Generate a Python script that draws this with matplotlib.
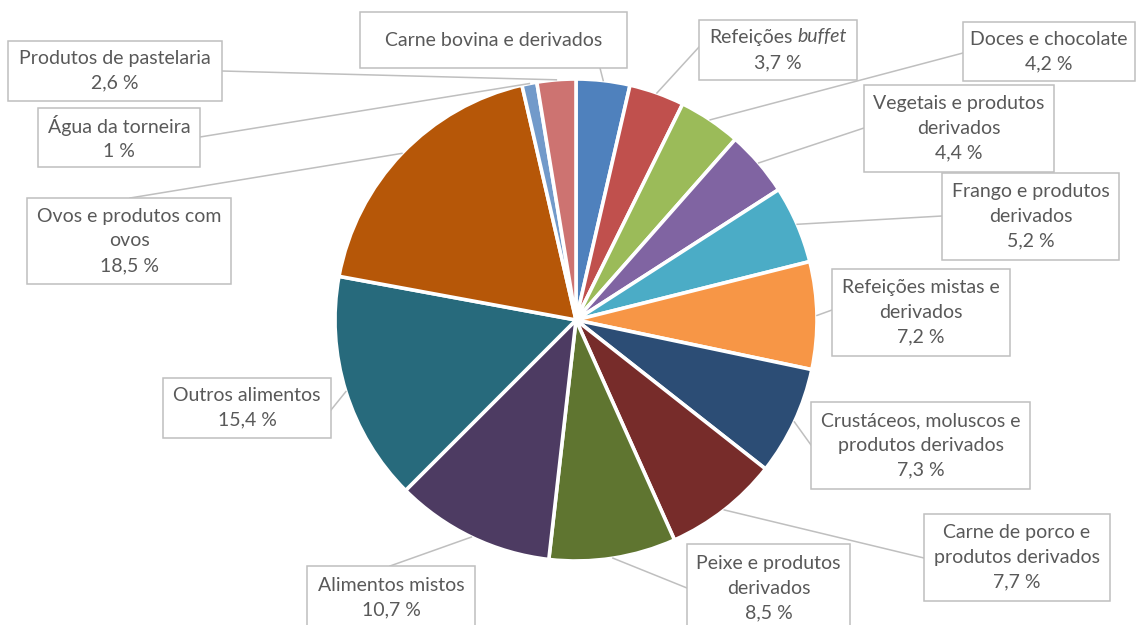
import matplotlib
matplotlib.use('Agg')
import matplotlib.pyplot as plt
from matplotlib.patches import Rectangle
import numpy as np

# data (clockwise from 12 o'clock)
names = ['Carne bovina e derivados', 'Refeições buffet', 'Doces e chocolate',
         'Vegetais e produtos\nderivados', 'Frango e produtos\nderivados',
         'Refeições mistas e\nderivados', 'Crustáceos, moluscos e\nprodutos derivados',
         'Carne de porco e\nprodutos derivados', 'Peixe e produtos\nderivados',
         'Alimentos mistos', 'Outros alimentos', 'Ovos e produtos com\novos',
         'Água da torneira', 'Produtos de pastelaria']
values = [3.6, 3.7, 4.2, 4.4, 5.2, 7.2, 7.3, 7.7, 8.5, 10.7, 15.4, 18.5, 1.0, 2.6]
show_pct = [False] + [True] * 13

colors = ['#4F81BD', '#C0504D', '#9BBB59', '#8064A2', '#4BACC6', '#F79646',
          '#2C4D75', '#772C2A', '#5F7530', '#4D3B62', '#276A7C', '#B65708',
          '#729ACA', '#CD7371']

# layout in pixels (top-left origin): label boxes and leader anchors
W, H = 1136, 625
boxes = [(360, 12, 627, 68), (699, 20, 857, 80), (963, 22, 1135, 81),
         (864, 85, 1054, 172), (942, 173, 1119, 260), (832, 269, 1010, 356),
         (811, 402, 1030, 489), (924, 514, 1110, 601), (687, 544, 850, 632),
         (307, 566, 475, 630), (163, 378, 331, 438), (27, 198, 231, 284),
         (38, 108, 200, 167), (8, 41, 222, 101)]
anchors = [(600, 68), (699, 47), (963, 53), (864, 128), (942, 216), (832, 310),
           (811, 445), (924, 558), (687, 588), (390, 566), (331, 410), (130, 198),
           (200, 137), (222, 71)]
cx, cy, R = 576, 320, 241

TXT = '#595959'
LINE = '#BFBFBF'
FONT = 'Lato'
FS = 14
LS = 1.55

fig = plt.figure(figsize=(W / 100, H / 100), dpi=100)
ax = fig.add_axes([0, 0, 1, 1])

Y = lambda y: H - y

wedges, _ = ax.pie(values, colors=colors, startangle=90, counterclock=False,
                   center=(cx, Y(cy)), radius=R, frame=True,
                   wedgeprops=dict(edgecolor='white', linewidth=2.6))
ax.set_xlim(0, W)
ax.set_ylim(0, H)
ax.axis('off')

fig.canvas.draw()
renderer = fig.canvas.get_renderer()

def fmt(v):
    return f'{v:g}'.replace('.', ',') + ' %'

def text_w(s, **kw):
    t = ax.text(0, 0, s, fontsize=FS, family=FONT, **kw)
    w = t.get_window_extent(renderer).width
    t.remove()
    return w

for i, w in enumerate(wedges):
    x0, y0, x1, y1 = boxes[i]
    ax.add_patch(Rectangle((x0, Y(y1)), x1 - x0, y1 - y0, facecolor='white',
                           edgecolor=LINE, linewidth=1.1, zorder=3))
    mid = np.deg2rad((w.theta1 + w.theta2) / 2)
    px, py = cx + R * np.cos(mid), Y(cy) + R * np.sin(mid)
    ax.plot([anchors[i][0], px], [Y(anchors[i][1]), py], color=LINE, lw=1.1, zorder=2)

    label = names[i] + ('\n' + fmt(values[i]) if show_pct[i] else '')
    tx, ty = (x0 + x1) / 2, Y((y0 + y1) / 2)
    if i == 1:
        # first line with italic "buffet"
        d = 26
        wa = text_w('Refeições')
        wb = text_w('buffet', style='italic')
        sp = FS * 0.26 * 100 / 72
        left = tx - (wa + sp + wb) / 2
        ax.text(left, ty + d / 2, 'Refeições', ha='left', va='center', color=TXT,
                fontsize=FS, family=FONT, zorder=4)
        ax.text(left + wa + sp, ty + d / 2, 'buffet', ha='left', va='center',
                color=TXT, fontsize=FS, family=FONT, style='italic', zorder=4)
        ax.text(tx, ty - d / 2, fmt(values[i]), ha='center', va='center', color=TXT,
                fontsize=FS, family=FONT, zorder=4)
    else:
        ax.text(tx, ty, label, ha='center', va='center', color=TXT, fontsize=FS,
                family=FONT, linespacing=LS, zorder=4)

fig.savefig('out.png', dpi=100, facecolor='white')
